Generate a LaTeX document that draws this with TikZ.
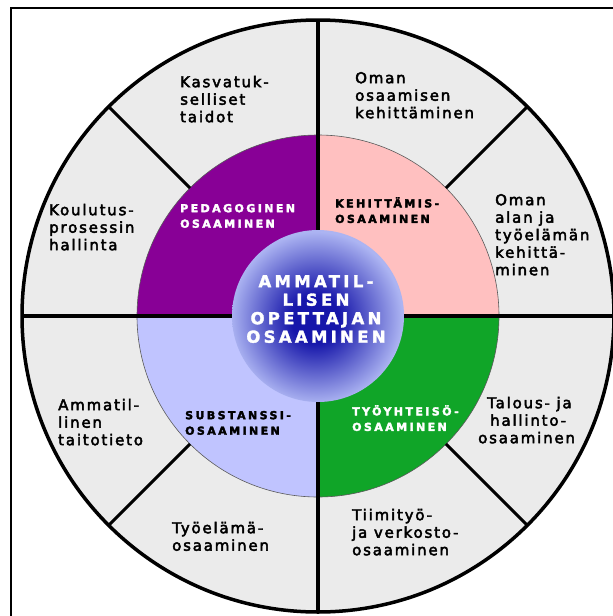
\documentclass[tikz,border=0pt]{standalone}
\usepackage{fontspec}
\setmainfont{DejaVu Sans}
\newfontfamily\ringfont[LetterSpace=12,FakeBold=3]{DejaVu Sans}
\newfontfamily\quadfont[LetterSpace=22,FakeBold=3]{DejaVu Sans Bold}
\newfontfamily\hubfont[LetterSpace=20,FakeBold=2]{DejaVu Sans Bold}

\definecolor{ringgray}{RGB}{235,235,235}
\definecolor{pedag}{RGB}{136,0,150}
\definecolor{kehit}{RGB}{255,192,192}
\definecolor{subst}{RGB}{192,196,255}
\definecolor{tyoyh}{RGB}{16,165,40}
\definecolor{hubdark}{RGB}{22,22,170}
\definecolor{hublight}{RGB}{172,180,242}
\definecolor{edgegray}{RGB}{90,90,90}

\pgfdeclareradialshading{hubglow}{\pgfpoint{-1bp}{-1bp}}{%
  color(0bp)=(hubdark); color(7bp)=(hubdark); color(25bp)=(hublight); color(50bp)=(hublight)}

\begin{document}
\begin{tikzpicture}[x=1pt,y=-1pt,
  frame/.style={draw=black,line width=1.4pt},
  spoke/.style={draw=black,line width=4.2pt},
  divider/.style={draw=black,line width=3pt},
  rim/.style={draw=black,line width=3.5pt},
  ringtext/.style={anchor=north west,inner sep=0pt,align=left,text=black,
    font=\ringfont\fontsize{15}{17.5}\selectfont},
  quadtext/.style={anchor=north west,inner sep=0pt,align=left,
    font=\quadfont\fontsize{11}{15.5}\selectfont},
  hubtext/.style={anchor=north,inner sep=0pt,align=center,text=white,
    font=\hubfont\fontsize{16.5}{18.5}\selectfont}]
\useasboundingbox (0,0) rectangle (613,616);
\fill[white] (0,0) rectangle (613,616);
\coordinate (c) at (318,316);

% open frame along the left and top edges
\draw[frame] (11,616) -- (11,8) -- (613,8);

% outer ring
\fill[ringgray] (c) circle[radius=296];

% four quarters of the middle ring
\fill[pedag] (c) -- ++(180:181) arc[start angle=180,end angle=270,radius=181] -- cycle;
\fill[kehit] (c) -- ++(270:181) arc[start angle=270,end angle=360,radius=181] -- cycle;
\fill[tyoyh] (c) -- ++(0:181) arc[start angle=0,end angle=90,radius=181] -- cycle;
\fill[subst] (c) -- ++(90:181) arc[start angle=90,end angle=180,radius=181] -- cycle;
\draw[edgegray,line width=0.6pt] (c) circle[radius=181];

% cross through the centre
\draw[spoke] (c) ++(0,-296) -- ++(0,592);
\draw[spoke] (c) ++(-296,0) -- ++(592,0);

% dividers of the outer ring
\foreach \a in {45,135,225,315}
  \draw[divider] (c) ++(\a:181) -- ++(\a:115);

\draw[rim] (c) circle[radius=296];

% central disc
\shade[shading=hubglow] (c) circle[radius=86];

% centre label
\node[hubtext] (hub) at (316,273) {\rule{0pt}{14pt}AMMATIL-\\LISEN\\OPETTAJAN\\OSAAMINEN};

% middle ring labels
\node[quadtext,text=white] (pedagoginen) at (180,202) {\rule{0pt}{10pt}PEDAGOGINEN\\OSAAMINEN};
\node[quadtext,text=black] (kehittamis) at (335,197) {\rule{0pt}{10pt}KEHITTÄMIS-\\OSAAMINEN};
\node[quadtext,text=black] (substanssi) at (185,409) {\rule{0pt}{10pt}SUBSTANSSI-\\OSAAMINEN};
\node[quadtext,text=white] (tyoyhteiso) at (352,405) {\rule{0pt}{10pt}TYÖYHTEISÖ-\\OSAAMINEN};

% outer ring labels
\node[ringtext] (kasvatus) at (180,75) {\rule{0pt}{12pt}Kasvatuk-\\selliset\\taidot};
\node[ringtext] (koulutus) at (49,203) {\rule{0pt}{12pt}Koulutus-\\prosessin\\hallinta};
\node[ringtext] (omaosaaminen) at (355,71) {\rule{0pt}{12pt}Oman\\osaamisen\\kehittäminen};
\node[ringtext] (omaala) at (495,193) {\rule{0pt}{12pt}Oman\\alan ja\\työelämän\\kehittä-\\minen};
\node[ringtext] (ammatillinen) at (58,398) {\rule{0pt}{12pt}Ammatil-\\linen\\taitotieto};
\node[ringtext] (tyoelama) at (172,521) {\rule{0pt}{12pt}Työelämä-\\osaaminen};
\node[ringtext] (talous) at (478,396) {\rule{0pt}{12pt}\hspace*{9pt}Talous- ja\\\hspace*{12pt}hallinto-\\osaaminen};
\node[ringtext] (tiimityo) at (352,508) {\rule{0pt}{12pt}Tiimityö-\\ja verkosto-\\osaaminen};
\end{tikzpicture}
\end{document}
